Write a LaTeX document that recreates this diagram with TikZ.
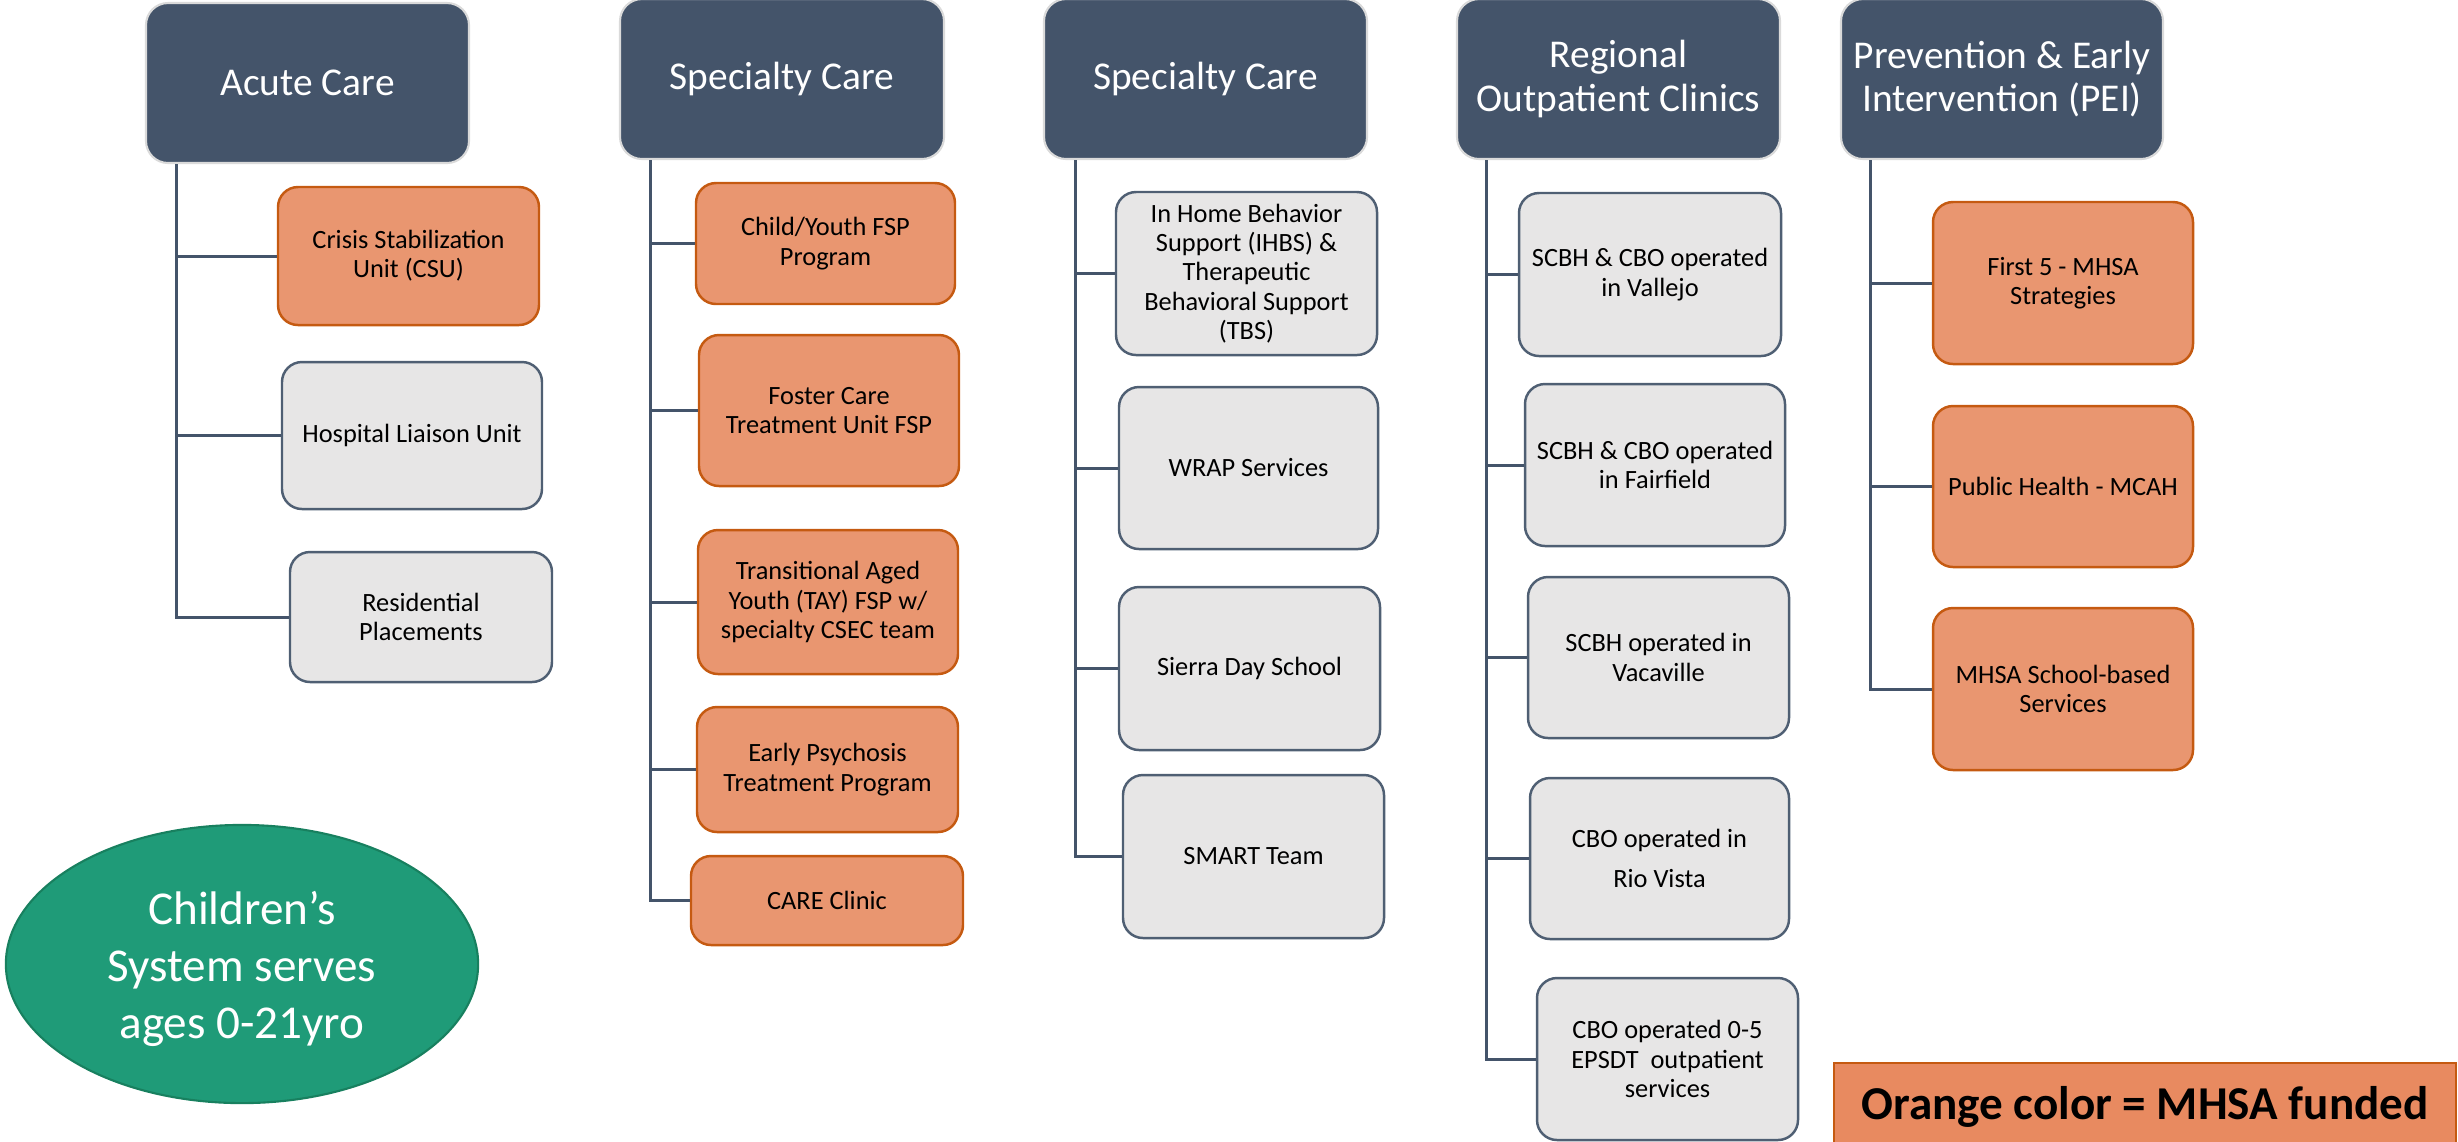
\documentclass[tikz,border=0pt]{standalone}
\usepackage{fontspec}
\setmainfont{Carlito}
\usetikzlibrary{shapes.geometric}
\definecolor{slate}{HTML}{44546A}
\definecolor{hdrline}{HTML}{DADADA}
\definecolor{orfill}{HTML}{E99670}
\definecolor{orline}{HTML}{C55A11}
\definecolor{legfill}{HTML}{E88A60}
\definecolor{grfill}{HTML}{E7E6E6}
\definecolor{grline}{HTML}{4F5F73}
\definecolor{grn}{HTML}{1F9B78}
\definecolor{grnline}{HTML}{18805F}
\tikzset{
  hdr/.style={draw=hdrline, line width=0.6pt, fill=slate, rounded corners=0.22cm, text=white,
    font=\fontsize{11.2}{12.3}\selectfont, align=center, inner sep=0pt},
  obox/.style={draw=orline, line width=0.7pt, fill=orfill, rounded corners=0.2cm,
    font=\fontsize{7.5}{8.3}\selectfont, align=center, inner sep=0pt},
  gbox/.style={draw=grline, line width=0.7pt, fill=grfill, rounded corners=0.2cm,
    font=\fontsize{7.5}{8.3}\selectfont, align=center, inner sep=0pt},
  conn/.style={draw=slate, line width=0.85pt},
  ovalnode/.style={ellipse, draw=grnline, line width=0.6pt, fill=grn, text=white,
    font=\fontsize{13.4}{16.2}\selectfont, align=center, inner sep=0pt},
  legendbox/.style={draw=orline, line width=0.7pt, fill=legfill, inner sep=0pt,
    font=\fontsize{13.4}{15}\selectfont\bfseries}
}
\newcommand\bx[7]{\node[#6, minimum width={(#4-#2)*0.01cm}, minimum height={(#5-#3)*0.01cm}] (#1) at ({(#2+#4)/2},{(#3+#5)/2}) {#7};}
\begin{document}
\begin{tikzpicture}[x=0.01cm,y=-0.01cm]
\useasboundingbox (0,0) rectangle (2458,1141);
% headers
\bx{h1}{146}{3}{469}{163}{hdr}{Acute Care}
\bx{h2}{620}{-1}{944}{159}{hdr}{Specialty Care}
\bx{h3}{1044}{-1}{1367}{159}{hdr}{Specialty Care}
\bx{h4}{1457}{-1}{1780}{159}{hdr}{Regional\\Outpatient Clinics}
\bx{h5}{1841}{-1}{2163}{159}{hdr}{Prevention \& Early\\Intervention (PEI)}
% column 1
\bx{a1}{278}{187}{539}{325}{obox}{Crisis Stabilization\\Unit (CSU)}
\bx{a2}{282}{362}{542}{509}{gbox}{Hospital Liaison Unit}
\bx{a3}{290}{552}{552}{682}{gbox}{Residential\\Placements}
% column 2
\bx{b1}{696}{183}{955}{304}{obox}{Child/Youth FSP\\Program}
\bx{b2}{699}{335}{959}{486}{obox}{Foster Care\\Treatment Unit FSP}
\bx{b3}{698}{530}{958}{674}{obox}{Transitional Aged\\Youth (TAY) FSP w/\\specialty CSEC team}
\bx{b4}{697}{707}{958}{832}{obox}{Early Psychosis\\Treatment Program}
\bx{b5}{691}{856}{963}{945}{obox}{CARE Clinic}
% column 3
\bx{c1}{1116}{192}{1377}{355}{gbox}{In Home Behavior\\Support (IHBS) \&\\Therapeutic\\Behavioral Support\\(TBS)}
\bx{c2}{1119}{387}{1378}{549}{gbox}{WRAP Services}
\bx{c3}{1119}{587}{1380}{750}{gbox}{Sierra Day School}
\bx{c4}{1123}{775}{1384}{938}{gbox}{SMART Team}
% column 4
\bx{d1}{1519}{193}{1781}{356}{gbox}{SCBH \& CBO operated\\in Vallejo}
\bx{d2}{1525}{384}{1785}{546}{gbox}{SCBH \& CBO operated\\in Fairfield}
\bx{d3}{1528}{577}{1789}{738}{gbox}{SCBH operated in\\Vacaville}
\bx{d4}{1530}{778}{1789}{939}{gbox}{CBO operated in\\[3pt]Rio Vista}
\bx{d5}{1537}{978}{1798}{1140}{gbox}{CBO operated 0-5\\EPSDT\ \ outpatient\\services}
% column 5
\bx{e1}{1933}{202}{2193}{364}{obox}{First 5 - MHSA\\Strategies}
\bx{e2}{1933}{406}{2193}{567}{obox}{Public Health - MCAH}
\bx{e3}{1933}{608}{2193}{770}{obox}{MHSA School-based\\Services}
% trunks
\path (h1.south west) ++(32,0) coordinate (ta);
\path (h2.south west) ++(32,0) coordinate (tb);
\path (h3.south west) ++(33,0) coordinate (tc);
\path (h4.south west) ++(31,0) coordinate (td);
\path (h5.south west) ++(31,0) coordinate (te);
\foreach \n in {a1,a2,a3} \draw[conn] (ta) |- (\n.west);
\foreach \n in {b1,b2,b3,b4,b5} \draw[conn] (tb) |- (\n.west);
\foreach \n in {c1,c2,c3,c4} \draw[conn] (tc) |- (\n.west);
\foreach \n in {d1,d2,d3,d4,d5} \draw[conn] (td) |- (\n.west);
\foreach \n in {e1,e2,e3} \draw[conn] (te) |- (\n.west);
% oval
\node[ovalnode, minimum width=4.72cm, minimum height=2.78cm] (oval) at (242,964) {};
\node[text=white, font=\fontsize{13.4}{16.2}\selectfont, align=center, inner sep=0pt] (ovaltext) at (242,969) {Children’s\\System serves\\ages 0-21yro};
% legend
\bx{leg}{1834}{1063}{2456}{1150}{legendbox}{Orange color = MHSA funded}
\end{tikzpicture}
\end{document}
